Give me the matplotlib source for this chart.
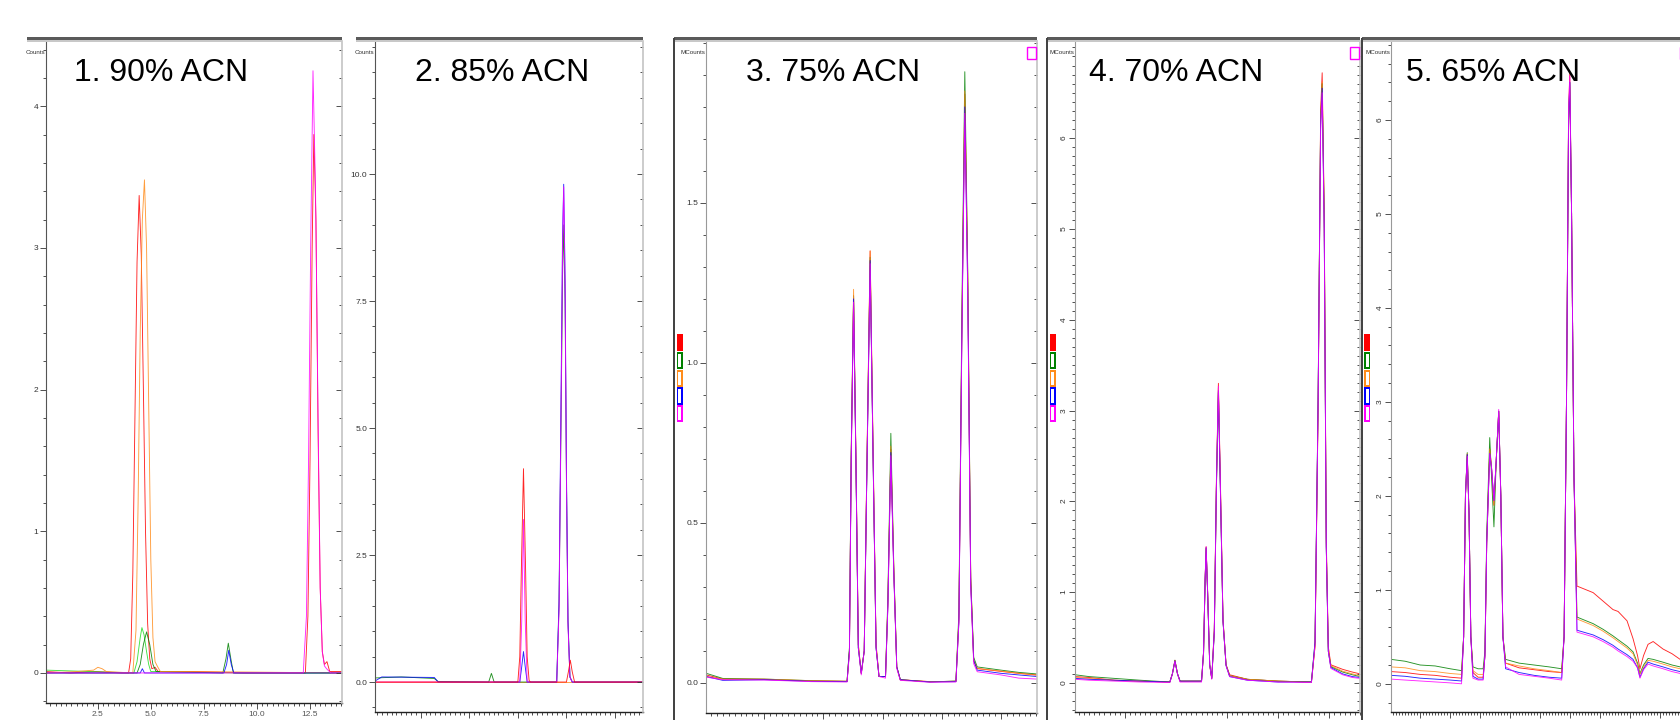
import matplotlib.pyplot as plt
from matplotlib.ticker import MultipleLocator, FixedLocator, FormatStrFormatter
from matplotlib.patches import Rectangle

plt.rcParams['font.family'] = ['Liberation Sans', 'DejaVu Sans']

W, H = 1681, 720

RED, GREEN, LIME, ORANGE, BLUE, MAGENTA = '#ff0000', '#008000', '#22dd22', '#ff8c1a', '#0000ff', '#ff00ff'

titles = ['1. 90% ACN', '2. 85% ACN', '3. 75% ACN', '4. 70% ACN', '5. 65% ACN']
unit_labels = ['Counts', 'Counts', 'MCounts', 'MCounts', 'MCounts']

# labelled y ticks per panel
p1_yticks = [0, 1, 2, 3, 4]
p2_yticks = [0.0, 2.5, 5.0, 7.5, 10.0]
p3_yticks = [0.0, 0.5, 1.0, 1.5]
p4_yticks = [0, 1, 2, 3, 4, 5, 6]
p5_yticks = [0, 1, 2, 3, 4, 5, 6]

# panel 1 (90% ACN) - one x/y pair per trace
p1_red_x = [0.05, 1.2, 2.4, 3.6, 3.95, 4.05, 4.15, 4.25, 4.35, 4.45, 4.55, 4.65, 4.75, 4.85, 4.95, 5.05, 5.2, 5.35, 7.0, 9.5,
            12.3, 12.42, 12.52, 12.62, 12.70, 12.8, 12.9, 13.0, 13.1, 13.2, 13.32, 13.45, 14.03]
p1_red_y = [0.01, 0.0, 0.01, 0.0, 0.0, 0.1, 0.7, 1.8, 2.9, 3.37, 2.95, 2.0, 1.0, 0.35, 0.1, 0.03, 0.04, 0.01, 0.01, 0.0,
            0.0, 0.4, 1.5, 3.0, 3.8, 3.2, 1.7, 0.6, 0.15, 0.06, 0.08, 0.01, 0.01]
p1_orange_x = [0.05, 1.5, 2.3, 2.5, 2.7, 2.9, 4.15, 4.3, 4.4, 4.5, 4.6, 4.7, 4.8, 4.9, 5.0, 5.1, 5.2, 5.3, 5.45, 7.0, 14.03]
p1_orange_y = [0.0, 0.01, 0.02, 0.04, 0.03, 0.01, 0.0, 0.3, 1.2, 2.4, 3.2, 3.48, 3.0, 1.9, 0.8, 0.25, 0.08, 0.05, 0.01, 0.01, 0.0]
p1_lime_x = [0.05, 4.2, 4.35, 4.5, 4.58, 4.68, 4.8, 4.9, 5.0, 9.0, 14.03]
p1_lime_y = [0.02, 0.0, 0.08, 0.25, 0.32, 0.27, 0.15, 0.06, 0.01, 0.0, 0.0]
p1_green_x = [0.05, 4.35, 4.5, 4.65, 4.8, 4.95, 5.1, 5.25, 8.4, 8.55, 8.66, 8.78, 8.9, 14.03]
p1_green_y = [0.0, 0.0, 0.06, 0.2, 0.29, 0.2, 0.06, 0.01, 0.0, 0.1, 0.21, 0.1, 0.0, 0.0]
p1_blue_x = [0.05, 4.5, 4.6, 4.7, 8.45, 8.58, 8.68, 8.8, 8.92, 14.03]
p1_blue_y = [0.0, 0.0, 0.03, 0.0, 0.0, 0.06, 0.16, 0.06, 0.0, 0.0]
p1_magenta_x = [0.05, 12.2, 12.35, 12.45, 12.55, 12.66, 12.78, 12.9, 13.0, 13.1, 13.2, 13.3, 13.5, 14.03]
p1_magenta_y = [0.0, 0.0, 0.4, 1.5, 3.0, 4.25, 3.4, 1.8, 0.6, 0.15, 0.05, 0.03, 0.0, 0.0]

# panel 2 (85% ACN)
p2_red_x = [0.15, 7.5, 7.6, 7.68, 7.79, 7.9, 7.98, 8.08, 8.15, 10.0, 10.1, 10.2, 10.3, 10.42, 13.94]
p2_red_y = [0.0, 0.0, 0.5, 2.2, 4.2, 2.2, 0.5, 0.03, 0.0, 0.0, 0.2, 0.43, 0.2, 0.0, 0.0]
p2_orange_x = [0.15, 13.94]
p2_orange_y = [0.0, 0.0]
p2_green_x = [0.15, 1.5, 3.2, 3.4, 6.0, 6.14, 6.28, 9.5, 9.62, 9.72, 9.8, 9.86, 9.93, 10.0, 10.08, 10.18, 10.3, 13.94]
p2_green_y = [0.08, 0.1, 0.07, 0.01, 0.0, 0.17, 0.0, 0.0, 1.5, 5.0, 8.0, 9.0, 7.5, 4.0, 1.2, 0.1, 0.0, 0.0]
p2_blue_x = [0.15, 0.5, 3.2, 3.4, 7.6, 7.7, 7.79, 7.88, 7.98, 9.5, 9.62, 9.72, 9.8, 9.86, 9.93, 10.0, 10.08, 10.18, 10.3, 13.94]
p2_blue_y = [0.02, 0.1, 0.09, 0.0, 0.0, 0.3, 0.6, 0.3, 0.0, 0.0, 1.6, 5.5, 8.8, 9.8, 8.0, 4.2, 1.2, 0.1, 0.0, 0.0]
p2_magenta_x = [0.15, 7.6, 7.7, 7.79, 7.88, 7.98, 9.5, 9.62, 9.72, 9.8, 9.86, 9.93, 10.0, 10.08, 10.18, 10.3, 13.94]
p2_magenta_y = [0.0, 0.0, 1.2, 3.2, 1.2, 0.0, 0.0, 1.4, 5.2, 8.5, 9.75, 7.8, 4.0, 1.1, 0.1, 0.0, 0.0]

# panel 3 (75% ACN) - shared time points
p3_x = [0.02, 0.3, 1.0, 1.8, 2.40, 2.44, 2.47, 2.51, 2.55, 2.59, 2.64, 2.69, 2.73, 2.79, 2.84, 2.89, 2.94, 3.05,
        3.09, 3.14, 3.19, 3.24, 3.30, 3.8, 4.24, 4.29, 4.34, 4.39, 4.44, 4.49, 4.54, 4.60, 5.0, 5.3, 5.61]
p3_red = [0.025, 0.012, 0.011, 0.006, 0.005, 0.1, 0.7, 1.21, 0.7, 0.12, 0.03, 0.1, 0.62, 1.35, 0.72, 0.12, 0.02, 0.02,
          0.25, 0.73, 0.35, 0.05, 0.01, 0.004, 0.005, 0.2, 1.1, 1.84, 1.25, 0.32, 0.07, 0.045, 0.036, 0.03, 0.025]
p3_green = [0.03, 0.014, 0.012, 0.007, 0.005, 0.11, 0.72, 1.21, 0.68, 0.11, 0.03, 0.1, 0.6, 1.33, 0.7, 0.11, 0.02, 0.02,
            0.27, 0.78, 0.36, 0.05, 0.01, 0.003, 0.006, 0.22, 1.15, 1.91, 1.28, 0.33, 0.08, 0.05, 0.04, 0.033, 0.028]
p3_orange = [0.02, 0.012, 0.012, 0.007, 0.005, 0.1, 0.72, 1.23, 0.71, 0.12, 0.03, 0.1, 0.62, 1.35, 0.73, 0.12, 0.02, 0.02,
             0.25, 0.74, 0.36, 0.05, 0.01, 0.004, 0.005, 0.2, 1.1, 1.85, 1.27, 0.33, 0.07, 0.045, 0.037, 0.03, 0.024]
p3_blue = [0.02, 0.008, 0.01, 0.005, 0.004, 0.1, 0.7, 1.2, 0.69, 0.11, 0.03, 0.1, 0.6, 1.32, 0.7, 0.11, 0.02, 0.02,
           0.24, 0.72, 0.34, 0.05, 0.01, 0.003, 0.004, 0.19, 1.08, 1.80, 1.22, 0.31, 0.07, 0.04, 0.03, 0.025, 0.02]
p3_magenta = [0.018, 0.01, 0.009, 0.004, 0.003, 0.09, 0.69, 1.19, 0.69, 0.11, 0.025, 0.1, 0.6, 1.31, 0.7, 0.11, 0.02, 0.015,
              0.24, 0.71, 0.34, 0.045, 0.008, 0.002, 0.003, 0.19, 1.07, 1.78, 1.21, 0.3, 0.06, 0.035, 0.025, 0.015, 0.012]

# panel 4 (70% ACN)
p4_x = [0.03, 0.3, 0.8, 1.3, 1.88, 1.93, 1.98, 2.03, 2.08, 2.5, 2.54, 2.57, 2.59, 2.62, 2.66, 2.70, 2.75, 2.79, 2.83,
        2.87, 2.92, 2.98, 3.05, 3.4, 4.0, 4.65, 4.72, 4.78, 4.83, 4.86, 4.9, 4.94, 4.98, 5.03, 5.26, 5.45, 5.6]
p4_red = [0.07, 0.06, 0.03, 0.02, 0.01, 0.1, 0.25, 0.1, 0.02, 0.02, 0.35, 1.15, 1.5, 1.0, 0.2, 0.05, 0.6, 2.2, 3.3,
          2.2, 0.7, 0.2, 0.09, 0.04, 0.02, 0.01, 0.4, 3.0, 6.3, 6.72, 5.2, 1.6, 0.4, 0.2, 0.15, 0.12, 0.1]
p4_green = [0.09, 0.07, 0.05, 0.03, 0.01, 0.1, 0.25, 0.1, 0.02, 0.02, 0.33, 1.12, 1.48, 0.98, 0.2, 0.05, 0.55, 2.1, 3.2,
            2.1, 0.68, 0.2, 0.08, 0.04, 0.02, 0.01, 0.45, 3.1, 6.2, 6.6, 5.1, 1.5, 0.35, 0.18, 0.12, 0.09, 0.07]
p4_orange = [0.06, 0.05, 0.03, 0.02, 0.01, 0.1, 0.24, 0.1, 0.02, 0.02, 0.33, 1.12, 1.49, 0.99, 0.2, 0.05, 0.58, 2.15, 3.25,
             2.15, 0.7, 0.2, 0.08, 0.04, 0.02, 0.01, 0.4, 3.0, 6.2, 6.62, 5.15, 1.55, 0.38, 0.19, 0.13, 0.1, 0.08]
p4_blue = [0.05, 0.04, 0.03, 0.02, 0.01, 0.1, 0.24, 0.1, 0.02, 0.02, 0.34, 1.13, 1.49, 0.98, 0.2, 0.05, 0.57, 2.15, 3.22,
           2.1, 0.68, 0.19, 0.07, 0.03, 0.01, 0.01, 0.45, 3.1, 6.15, 6.55, 5.0, 1.5, 0.35, 0.17, 0.1, 0.07, 0.06]
p4_magenta = [0.04, 0.03, 0.02, 0.01, 0.005, 0.1, 0.24, 0.1, 0.01, 0.01, 0.34, 1.14, 1.5, 1.0, 0.2, 0.04, 0.56, 2.12, 3.27,
              2.15, 0.68, 0.19, 0.07, 0.03, 0.01, 0.005, 0.42, 3.05, 6.1, 6.5, 5.0, 1.5, 0.35, 0.16, 0.09, 0.06, 0.05]

# panel 5 (65% ACN)
p5_x = [0.03, 0.5, 1.0, 1.5, 2.0, 2.38, 2.45, 2.51, 2.57, 2.63, 2.69, 2.76, 2.93, 3.1, 3.16, 3.22, 3.32, 3.38, 3.46,
        3.54, 3.62, 3.69, 3.76, 3.85, 4.3, 4.8, 5.3, 5.72, 5.8, 5.88, 5.95, 5.99, 6.05, 6.13, 6.23, 6.77, 7.1, 7.43,
        7.6, 7.9, 8.1, 8.25, 8.33, 8.45, 8.6, 8.77, 9.1, 9.4, 9.67, 10.2, 11.0]
p5_red = [0.13, 0.12, 0.1, 0.09, 0.07, 0.06, 0.5, 2.0, 2.44, 1.8, 0.5, 0.12, 0.07, 0.07, 0.3, 1.5, 2.5, 2.3, 1.9,
          2.4, 2.9, 2.0, 0.5, 0.22, 0.17, 0.15, 0.13, 0.12, 0.5, 3.0, 6.1, 6.5, 5.0, 2.2, 1.04, 0.97, 0.88, 0.79,
          0.77, 0.67, 0.48, 0.3, 0.16, 0.3, 0.42, 0.45, 0.37, 0.32, 0.26, 0.22, 0.2]
p5_green = [0.26, 0.24, 0.2, 0.19, 0.16, 0.14, 0.5, 2.0, 2.46, 1.8, 0.5, 0.18, 0.16, 0.16, 0.35, 1.6, 2.62, 2.2, 1.67,
            2.4, 2.9, 2.0, 0.5, 0.26, 0.22, 0.2, 0.18, 0.16, 0.5, 3.0, 6.0, 6.4, 5.0, 2.2, 0.71, 0.64, 0.58, 0.51,
            0.47, 0.4, 0.34, 0.22, 0.11, 0.2, 0.27, 0.26, 0.23, 0.2, 0.18, 0.16, 0.15]
p5_orange = [0.18, 0.17, 0.14, 0.13, 0.11, 0.1, 0.5, 2.0, 2.45, 1.8, 0.5, 0.14, 0.1, 0.1, 0.3, 1.5, 2.5, 2.3, 1.9,
             2.4, 2.9, 2.0, 0.5, 0.22, 0.19, 0.16, 0.14, 0.12, 0.5, 3.0, 6.0, 6.35, 5.0, 2.2, 0.69, 0.62, 0.56, 0.49,
             0.45, 0.38, 0.32, 0.2, 0.1, 0.18, 0.25, 0.24, 0.21, 0.18, 0.16, 0.14, 0.13]
p5_blue = [0.09, 0.08, 0.06, 0.05, 0.04, 0.03, 0.5, 2.0, 2.44, 1.8, 0.5, 0.08, 0.05, 0.05, 0.3, 1.5, 2.45, 2.3, 1.95,
           2.4, 2.9, 2.0, 0.5, 0.16, 0.12, 0.09, 0.07, 0.06, 0.5, 3.0, 6.0, 6.4, 5.0, 2.2, 0.57, 0.52, 0.47, 0.41,
           0.37, 0.31, 0.26, 0.17, 0.07, 0.16, 0.23, 0.21, 0.18, 0.15, 0.13, 0.11, 0.1]
p5_magenta = [0.05, 0.04, 0.03, 0.02, 0.01, 0.0, 0.5, 2.0, 2.42, 1.8, 0.5, 0.06, 0.04, 0.04, 0.3, 1.5, 2.45, 2.3, 1.95,
              2.4, 2.92, 2.0, 0.5, 0.18, 0.1, 0.08, 0.06, 0.04, 0.5, 3.0, 6.1, 6.47, 5.0, 2.2, 0.55, 0.5, 0.45, 0.39,
              0.35, 0.29, 0.24, 0.17, 0.06, 0.15, 0.21, 0.19, 0.16, 0.13, 0.11, 0.1, 0.09]

traces = [
    [(p1_red_x, p1_red_y, RED), (p1_lime_x, p1_lime_y, LIME), (p1_green_x, p1_green_y, GREEN),
     (p1_orange_x, p1_orange_y, ORANGE), (p1_blue_x, p1_blue_y, BLUE), (p1_magenta_x, p1_magenta_y, MAGENTA)],
    [(p2_orange_x, p2_orange_y, ORANGE), (p2_green_x, p2_green_y, GREEN), (p2_blue_x, p2_blue_y, BLUE),
     (p2_magenta_x, p2_magenta_y, MAGENTA), (p2_red_x, p2_red_y, RED)],
    [(p3_x, p3_red, RED), (p3_x, p3_green, GREEN), (p3_x, p3_orange, ORANGE), (p3_x, p3_blue, BLUE), (p3_x, p3_magenta, MAGENTA)],
    [(p4_x, p4_red, RED), (p4_x, p4_green, GREEN), (p4_x, p4_orange, ORANGE), (p4_x, p4_blue, BLUE), (p4_x, p4_magenta, MAGENTA)],
    [(p5_x, p5_red, RED), (p5_x, p5_green, GREEN), (p5_x, p5_orange, ORANGE), (p5_x, p5_blue, BLUE), (p5_x, p5_magenta, MAGENTA)],
]
yticks = [p1_yticks, p2_yticks, p3_yticks, p4_yticks, p5_yticks]

# pixel layout: left, right, top, bottom of plot area, frame left, title x
boxes = [(46, 342, 41, 703, 27, 74), (375, 643, 41, 712, 356, 415), (706, 1037, 41, 713, 674, 746),
         (1075, 1360, 41, 712, 1047, 1089), (1391, 1720, 41, 712, 1362, 1406)]
xlims = [(0.05, 14.03), (0.15, 13.94), (0.016, 5.61), (0.025, 5.6), (0.027, 11.0)]
ylims = [(-0.212, 4.46), (-0.59, 12.62), (-0.094, 2.006), (-0.32, 7.07), (-0.30, 6.84)]
x_steps = [(2.5, 0.25), (2.5, 0.25), (1, 0.1), (1, 0.1), (1, 0.1)]
y_minor = [0.2, 0.5, 0.1, 0.1, 0.2]
y_formats = ['%d', '%.1f', '%.1f', '%d', '%d']

fig = plt.figure(figsize=(W / 100, H / 100), dpi=100)


def rect(x0, x1, y0, y1, **kw):
    fig.add_artist(Rectangle((x0 / W, 1 - y1 / H), (x1 - x0) / W, (y1 - y0) / H,
                             transform=fig.transFigure, **kw))


for i in range(5):
    left, right, top, bottom, frame_left, title_x = boxes[i]
    ax = fig.add_axes([left / W, 1 - bottom / H, (right - left) / W, (bottom - top) / H])
    for x, y, c in traces[i]:
        ax.plot(x, y, color=c, lw=0.65, alpha=0.85)
    ax.set_xlim(*xlims[i])
    ax.set_ylim(*ylims[i])
    ax.xaxis.set_major_locator(MultipleLocator(x_steps[i][0]))
    ax.xaxis.set_minor_locator(MultipleLocator(x_steps[i][1]))
    ax.yaxis.set_major_locator(FixedLocator(yticks[i]))
    ax.yaxis.set_minor_locator(MultipleLocator(y_minor[i]))
    ax.xaxis.set_major_formatter(FormatStrFormatter('%.1f'))
    ax.yaxis.set_major_formatter(FormatStrFormatter(y_formats[i]))
    ax.tick_params(which='both', direction='out', colors='#333333', labelsize=6, width=0.6, pad=1.5)
    ax.tick_params(which='major', length=4)
    ax.tick_params(which='minor', length=2)
    ax.tick_params(axis='x', labelcolor='#555555')
    if i >= 3:
        ax.tick_params(axis='y', labelrotation=90)
    ax.spines['top'].set_visible(False)
    ax.spines['right'].set_visible(False)
    ax.spines['left'].set_color('#555555' if i < 2 else '#999999')
    ax.spines['left'].set_linewidth(0.8)
    ax.spines['bottom'].set_color('#222222')
    ax.spines['bottom'].set_linewidth(1.0)

    # right-hand ticks pointing inward
    twin = ax.twinx()
    twin.set_ylim(*ylims[i])
    twin.yaxis.set_major_locator(FixedLocator(yticks[i]))
    twin.yaxis.set_minor_locator(MultipleLocator(y_minor[i]))
    twin.tick_params(which='both', direction='in', colors='#333333', labelright=False, width=0.6)
    twin.tick_params(which='major', length=4)
    twin.tick_params(which='minor', length=2)
    for s in ['top', 'left', 'bottom']:
        twin.spines[s].set_visible(False)
    twin.spines['right'].set_color('#c4c4c4')
    twin.spines['right'].set_linewidth(1.2)

    # window frame: dark bar on top
    rect(frame_left, min(right, W), 37.5, 40.2, color='#5a5a5a', lw=0)
    rect(frame_left, min(right, W), 40.2, 41.5, color='#c8c8c8', lw=0)

    fig.text((left - 1) / W, 1 - 52 / H, unit_labels[i], ha='right', va='center', fontsize=4.5, color='#333333')
    fig.text(title_x / W, 1 - 81 / H, titles[i], ha='left', va='baseline', fontsize=23, color='black')

    if i >= 2:
        # vertical window border on the left
        rect(frame_left - 1.2, frame_left + 1.2, 37.5, H, color='#444444', lw=0)
        # colour key of the five runs
        key_x = frame_left + 2.5
        for k, c in enumerate([RED, GREEN, ORANGE, BLUE, MAGENTA]):
            y0 = 334 + k * 17.8
            rect(key_x, key_x + 6, y0, y0 + 17.2, color=c, lw=0)
            if k > 0:
                rect(key_x + 1.5, key_x + 4.5, y0 + 2, y0 + 15.2, color='white', lw=0)
        # small export box at the top right
        bx = min(right, W + 9) - 10
        rect(bx, bx + 9.5, 47, 58.5, facecolor='white', edgecolor=MAGENTA, lw=1.0)

fig.savefig('out.png', dpi=100)
